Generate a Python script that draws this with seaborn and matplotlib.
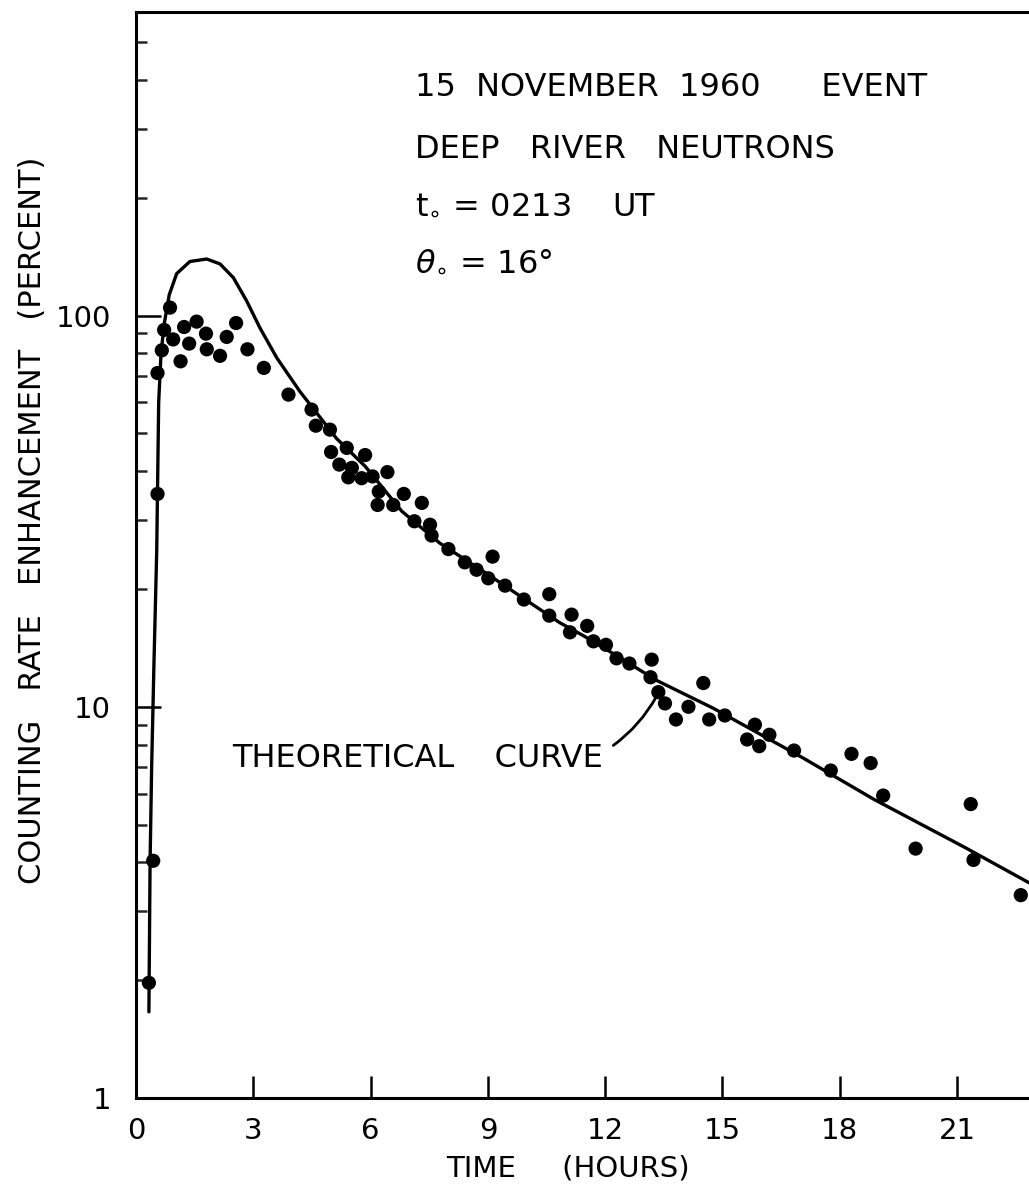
import matplotlib
matplotlib.use("Agg")
import matplotlib.pyplot as plt
import seaborn as sns
from matplotlib.ticker import FixedLocator, LogLocator, NullFormatter

# ---- data ----
time_h = [0.33, 0.44, 0.55, 0.55, 0.66, 0.72, 0.87, 0.95, 1.14, 1.23,
          1.36, 1.55, 1.79, 1.81, 2.15, 2.32, 2.56, 2.85, 3.27, 3.90,
          4.49, 4.60, 4.96, 4.99, 5.20, 5.39, 5.43, 5.52, 5.77, 5.86,
          6.05, 6.18, 6.21, 6.43, 6.58, 6.85, 7.12, 7.31, 7.52, 7.56,
          7.99, 8.41, 8.71, 9.01, 9.12, 9.44, 9.92, 10.57, 10.57, 11.10,
          11.14, 11.54, 11.70, 12.02, 12.29, 12.62, 13.16, 13.19, 13.36, 13.53,
          13.81, 14.13, 14.51, 14.66, 15.06, 15.63, 15.83, 15.94, 16.20, 16.83,
          17.77, 18.30, 18.79, 19.11, 19.94, 21.35, 21.42, 22.63]
enhancement = [1.97, 4.04, 35.0, 71.3, 81.5, 91.9, 104.8, 86.9, 76.4, 93.5,
               84.8, 96.5, 89.9, 82.0, 78.9, 88.2, 95.7, 82.0, 73.5, 62.8,
               57.5, 52.3, 51.1, 44.8, 41.6, 45.9, 38.6, 40.8, 38.4, 44.0,
               38.8, 32.8, 35.5, 39.8, 32.8, 35.0, 29.8, 33.2, 29.2, 27.4,
               25.3, 23.4, 22.4, 21.3, 24.2, 20.4, 18.8, 19.4, 17.1, 15.5,
               17.2, 16.1, 14.7, 14.4, 13.3, 12.9, 11.9, 13.2, 10.9, 10.2,
               9.28, 10.0, 11.5, 9.28, 9.5, 8.25, 9.0, 7.93, 8.48, 7.73,
               6.87, 7.58, 7.18, 5.93, 4.34, 5.64, 4.06, 3.30]

curve_t = [0.33, 0.36, 0.40, 0.46, 0.53, 0.58, 0.64, 0.72, 0.85, 1.04,
           1.38, 1.81, 2.15, 2.49, 2.83, 3.17, 3.60, 4.19, 5.13, 5.86,
           6.80, 7.77, 9.00, 9.82, 10.84, 11.44, 12.30, 13.30, 14.76, 17.07,
           18.86, 21.20, 22.84]
curve_v = [1.66, 4.0, 7.0, 13.0, 25.0, 60.0, 80.0, 95.0, 113.0, 128.0,
           137.5, 139.5, 135.5, 125.0, 109.0, 93.0, 78.0, 64.0, 48.5, 41.2,
           31.6, 26.2, 21.8, 19.2, 16.4, 15.2, 13.5, 11.7, 9.92, 7.39,
           5.81, 4.37, 3.55]

x_ticks = [0, 3, 6, 9, 12, 15, 18, 21]
x_ticklabels = ["0", "3", "6", "9", "12", "15", "18", "21"]
y_ticks = [1, 10, 100]
y_ticklabels = ["1", "10", "100"]

info_lines = ["15  NOVEMBER  1960      EVENT",
              "DEEP   RIVER   NEUTRONS",
              r"t$_{\circ}$ = 0213    UT",
              r"$\theta_{\circ}$ = 16°"]

# ---- figure ----
sns.set_theme(style="ticks")
plt.rcParams['font.family'] = ['DejaVu Sans']
plt.rcParams['mathtext.fontset'] = 'dejavusans'

W, H = 1029, 1189
fig = plt.figure(figsize=(W / 100, H / 100), dpi=100)
fig.patch.set_facecolor("white")
L, R, B, T = 136, 1029, 1098, 12
ax = fig.add_axes([L / W, 1 - B / H, (R - L) / W, (B - T) / H])
ax.set_facecolor("white")

sns.lineplot(x=curve_t, y=curve_v, ax=ax, color="black", lw=2.4,
             sort=False, estimator=None)
sns.scatterplot(x=time_h, y=enhancement, ax=ax, color="black", s=105,
                edgecolor="none", zorder=3)

ax.set_yscale("log")
ax.set_xlim(0, 22.84)
ax.set_ylim(1, 597)

ax.xaxis.set_major_locator(FixedLocator(x_ticks))
ax.set_xticklabels(x_ticklabels)
ax.yaxis.set_major_locator(FixedLocator(y_ticks))
ax.set_yticklabels(y_ticklabels)
ax.yaxis.set_minor_locator(LogLocator(base=10, subs=range(2, 10)))
ax.yaxis.set_minor_formatter(NullFormatter())

ax.tick_params(axis="x", which="major", direction="in", length=16, width=1.8,
               pad=14, labelsize=21, colors="black", top=False)
ax.tick_params(axis="x", which="minor", bottom=False, top=False)
ax.tick_params(axis="y", which="major", direction="in", length=18, width=1.8,
               pad=18, labelsize=21, colors="black", right=False)
ax.tick_params(axis="y", which="minor", direction="in", length=8, width=1.8,
               right=False)

for s in ["left", "bottom", "top"]:
    ax.spines[s].set_linewidth(2.2)
    ax.spines[s].set_color("black")
ax.spines["right"].set_visible(False)

ax.set_xlabel("TIME     (HOURS)", fontsize=21, color="black")
ax.xaxis.set_label_coords((568 - L) / (R - L), -0.052)
ax.set_ylabel("COUNTING   RATE   ENHANCEMENT   (PERCENT)", fontsize=22,
              color="black")
ax.yaxis.set_label_coords(-0.100, 0.532)

ys = [88, 150, 205, 262]
for txt, yp in zip(info_lines, ys):
    fig.text(415 / W, 1 - yp / H, txt, fontsize=23, va="center", ha="left",
             color="black")

ax.text(2.45, 7.36, "THEORETICAL    CURVE", fontsize=23, va="center",
        ha="left", color="black")
ax.annotate("", xy=(13.35, 10.8), xytext=(12.15, 7.89),
            arrowprops=dict(arrowstyle="-", connectionstyle="arc3,rad=0.12",
                            lw=2, color="black"))

fig.savefig("out.png", dpi=100, facecolor="white")
